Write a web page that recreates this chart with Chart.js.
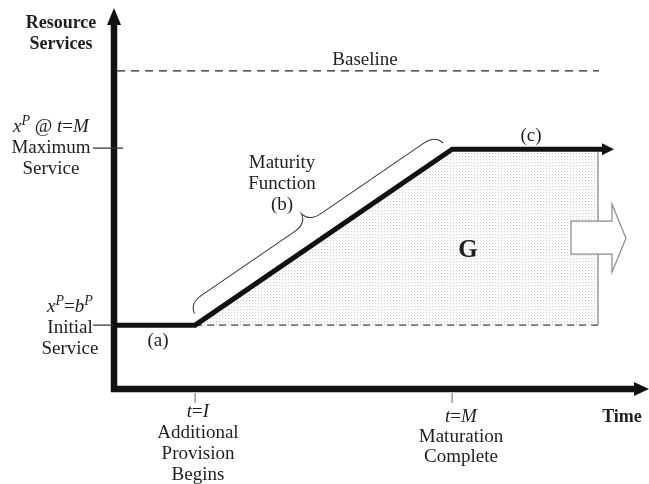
<!DOCTYPE html>
<html>
<head>
<meta charset="utf-8">
<script src="https://cdn.jsdelivr.net/npm/chart.js@4.4.1/dist/chart.umd.min.js"></script>
<style>
  html, body { margin: 0; padding: 0; background: #fff; }
  #wrap { width: 649px; height: 484px; position: relative; }
</style>
</head>
<body>
<div id="wrap"><canvas id="myChart"></canvas></div>
<script>
// time axis (0..100) and resource services axis (0..100)
const serviceTime = [0, 16.2, 67.5, 97.6];
const serviceLevel = [17.3, 17.3, 65.0, 65.0];
const shadeTime = [16.2, 67.5, 96.6];
const shadeLevel = [17.3, 65.0, 65.0];
const initialLevel = 17.3;
const maximumLevel = 65.0;
const baselineLevel = 86.2;
const baselineEnd = 96.8;
const shadeEnd = 96.6;
const timeTicks = [16.2, 67.5];
const timeTickLabels = ['t=I', 't=M'];

const FONT = '"Liberation Serif", "Times New Roman", serif';
const INK = '#1e1e1e';

// dotted fill like the printed screen
function dotPattern() {
  const c = document.createElement('canvas');
  c.width = 3; c.height = 3;
  const g = c.getContext('2d');
  g.fillStyle = '#ffffff';
  g.fillRect(0, 0, 3, 3);
  g.fillStyle = '#cdcdcd';
  g.fillRect(0, 0, 1, 1);
  g.fillStyle = '#ececec';
  g.fillRect(1, 1, 1, 1);
  return g.createPattern(c, 'repeat');
}

function pts(xs, ys) {
  return xs.map((x, i) => ({ x: x, y: ys[i] }));
}

// draw a line of mixed text: parts = [{t, it, sup, bold, size}]
function rich(ctx, parts, cx, y, size) {
  const fontOf = p => (p.it ? 'italic ' : '') + (p.bold ? 'bold ' : '') +
    (p.sup ? Math.round(size * 0.76) : (p.size || size)) + 'px ' + FONT;
  let w = 0;
  parts.forEach(p => { ctx.font = fontOf(p); w += ctx.measureText(p.t).width; });
  let x = cx - w / 2;
  ctx.textAlign = 'left';
  ctx.textBaseline = 'alphabetic';
  parts.forEach(p => {
    ctx.font = fontOf(p);
    ctx.fillText(p.t, x, p.sup ? y - size * 0.36 : y);
    x += ctx.measureText(p.t).width;
  });
}

function lines(ctx, arr, cx, y0, gap, size, bold) {
  arr.forEach((t, i) => {
    if (typeof t === 'string') rich(ctx, [{ t: t, bold: bold }], cx, y0 + i * gap, size);
    else rich(ctx, t, cx, y0 + i * gap, size);
  });
}

const annotate = {
  id: 'annotate',
  afterDatasetsDraw(chart) {
    const ctx = chart.ctx;
    const xs = chart.scales.x, ys = chart.scales.y;
    const area = chart.chartArea;
    const X = v => xs.getPixelForValue(v);
    const Y = v => ys.getPixelForValue(v);
    ctx.save();

    // arrowhead on the service line
    const n = serviceTime.length - 1;
    const ex = X(serviceTime[n]), ey = Y(serviceLevel[n]);
    ctx.fillStyle = '#111';
    ctx.beginPath();
    ctx.moveTo(ex - 1, ey - 6);
    ctx.lineTo(ex + 11, ey);
    ctx.lineTo(ex - 1, ey + 6);
    ctx.closePath();
    ctx.fill();

    // block arrow on the right of G
    const ay = Y((initialLevel + maximumLevel) / 2) + 1;
    const ax = X(shadeEnd);
    ctx.fillStyle = '#fff';
    ctx.strokeStyle = '#8a8a8a';
    ctx.lineWidth = 1.2;
    ctx.beginPath();
    ctx.moveTo(ax - 27, ay - 17);
    ctx.lineTo(ax + 14, ay - 17);
    ctx.lineTo(ax + 14, ay - 34);
    ctx.lineTo(ax + 28, ay);
    ctx.lineTo(ax + 14, ay + 34);
    ctx.lineTo(ax + 14, ay + 16);
    ctx.lineTo(ax - 27, ay + 16);
    ctx.closePath();
    ctx.fill();
    ctx.stroke();

    // brace over the maturity ramp
    const p1 = { x: X(serviceTime[1]), y: Y(serviceLevel[1]) };
    const p2 = { x: X(serviceTime[2]), y: Y(serviceLevel[2]) };
    const L = Math.hypot(p2.x - p1.x, p2.y - p1.y);
    const ang = Math.atan2(p2.y - p1.y, p2.x - p1.x);
    ctx.translate(p1.x, p1.y);
    ctx.rotate(ang);
    ctx.strokeStyle = '#333';
    ctx.lineWidth = 1;
    const s0 = 6, s1 = L - 4, base = -10, h = -22, mid = (s0 + s1) / 2 - 6;
    ctx.beginPath();
    ctx.moveTo(s0, base);
    ctx.quadraticCurveTo(s0 + 2, base + h / 2, s0 + 16, base + h / 2);
    ctx.lineTo(mid - 16, base + h / 2);
    ctx.quadraticCurveTo(mid - 2, base + h / 2, mid, base + h);
    ctx.quadraticCurveTo(mid + 2, base + h / 2, mid + 16, base + h / 2);
    ctx.lineTo(s1 - 16, base + h / 2);
    ctx.quadraticCurveTo(s1 - 2, base + h / 2, s1, base);
    ctx.stroke();
    ctx.setTransform(1, 0, 0, 1, 0, 0);

    // axes with arrows
    const ox = area.left, oy = area.bottom;
    ctx.strokeStyle = '#111';
    ctx.fillStyle = '#111';
    ctx.lineWidth = 6.5;
    ctx.beginPath();
    ctx.moveTo(ox, oy + 3);
    ctx.lineTo(ox, 22);
    ctx.moveTo(ox - 3, oy);
    ctx.lineTo(636, oy);
    ctx.stroke();
    ctx.beginPath();
    ctx.moveTo(ox - 7, 25); ctx.lineTo(ox, 8); ctx.lineTo(ox + 7, 25);
    ctx.closePath(); ctx.fill();
    ctx.beginPath();
    ctx.moveTo(634, oy - 7); ctx.lineTo(649, oy); ctx.lineTo(634, oy + 7);
    ctx.closePath(); ctx.fill();

    // ticks
    ctx.lineWidth = 1.3;
    ctx.strokeStyle = '#333';
    ctx.beginPath();
    ctx.moveTo(93, Y(maximumLevel) - 1); ctx.lineTo(ox + 9, Y(maximumLevel) - 1);
    ctx.moveTo(93, Y(initialLevel)); ctx.lineTo(ox, Y(initialLevel));
    ctx.stroke();
    ctx.strokeStyle = '#999';
    ctx.lineWidth = 1.5;
    ctx.beginPath();
    timeTicks.forEach(t => { ctx.moveTo(X(t), oy + 4); ctx.lineTo(X(t), oy + 14); });
    ctx.stroke();

    // texts
    ctx.fillStyle = INK;
    const S = 19;
    lines(ctx, ['Resource', 'Services'], 61, 28, 21, 18, true);
    lines(ctx, [
      [{ t: 'x', it: true }, { t: 'P', it: true, sup: true }, { t: ' @ ' }, { t: 't', it: true }, { t: '=' }, { t: 'M', it: true }],
      'Maximum', 'Service'], 51, 132, 21, S);
    lines(ctx, [
      [{ t: 'x', it: true }, { t: 'P', it: true, sup: true }, { t: '=' }, { t: 'b', it: true }, { t: 'P', it: true, sup: true }],
      'Initial', 'Service'], 70, 312, 21, S);
    lines(ctx, ['Baseline'], 365, 65, 21, S);
    lines(ctx, ['(a)'], 158, 346, 21, S);
    lines(ctx, ['Maturity', 'Function', '(b)'], 282, 168, 21, S);
    lines(ctx, ['(c)'], 531, 141, 21, S);
    lines(ctx, ['G'], 468, 257, 21, 25, true);
    lines(ctx, [
      [{ t: 't', it: true }, { t: '=' }, { t: timeTickLabels[0].slice(2), it: true }],
      'Additional', 'Provision', 'Begins'], 198, 417, 21, S);
    lines(ctx, [
      [{ t: 't', it: true }, { t: '=' }, { t: timeTickLabels[1].slice(2), it: true }],
      'Maturation', 'Complete'], 461, 422, 20, S);
    lines(ctx, ['Time'], 622, 422, 21, 18, true);

    ctx.restore();
  }
};

document.addEventListener('DOMContentLoaded', function () {
  const ctx = document.getElementById('myChart').getContext('2d');

  new Chart(ctx, {
    type: 'scatter',
    data: {
      datasets: [
        {
          // area G
          data: pts(shadeTime, shadeLevel),
          showLine: true,
          borderWidth: 0,
          pointRadius: 0,
          backgroundColor: dotPattern(),
          fill: { value: initialLevel },
          order: 5
        },
        {
          data: pts([shadeTime[0], shadeEnd], [initialLevel, initialLevel]),
          showLine: true,
          borderColor: '#444',
          borderWidth: 1.3,
          borderDash: [7, 5],
          pointRadius: 0,
          order: 4
        },
        {
          data: pts([shadeEnd, shadeEnd], [maximumLevel, initialLevel]),
          showLine: true,
          borderColor: '#9a9a9a',
          borderWidth: 1.5,
          pointRadius: 0,
          order: 3
        },
        {
          // baseline
          data: pts([0.6, baselineEnd], [baselineLevel, baselineLevel]),
          showLine: true,
          borderColor: '#222',
          borderWidth: 1.3,
          borderDash: [8, 6],
          pointRadius: 0,
          order: 2
        },
        {
          // resource services over time
          data: pts(serviceTime, serviceLevel),
          showLine: true,
          borderColor: '#111',
          borderWidth: 5,
          borderJoinStyle: 'miter',
          pointRadius: 0,
          order: 1
        }
      ]
    },
    options: {
      responsive: true,
      maintainAspectRatio: false,
      animation: false,
      layout: { padding: { left: 114, right: 34, top: 20, bottom: 95 } },
      scales: {
        x: { type: 'linear', min: 0, max: 100, display: false },
        y: { type: 'linear', min: 0, max: 100, display: false }
      },
      plugins: {
        legend: { display: false },
        tooltip: { enabled: false }
      }
    },
    plugins: [annotate]
  });
});
</script>
</body>
</html>
